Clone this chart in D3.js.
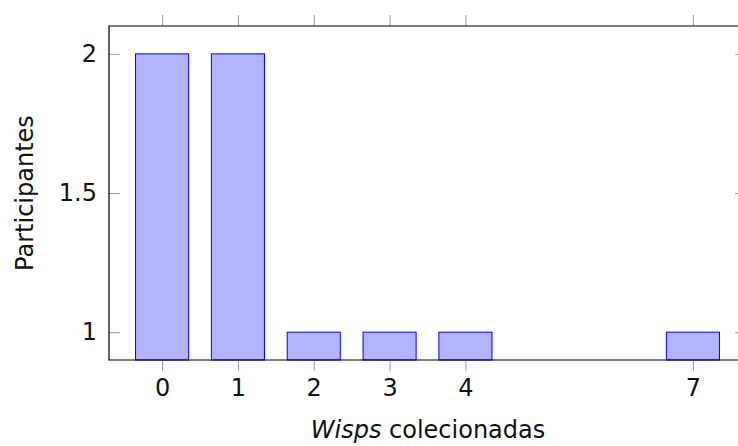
<!DOCTYPE html>
<html>
<head>
<meta charset="utf-8">
<script src="https://cdn.jsdelivr.net/npm/d3@7"></script>
<style>
  html, body { margin: 0; padding: 0; background: #fff; overflow: hidden; }
  svg { display: block; }
  text { font-family: "DejaVu Sans", sans-serif; fill: #111; }
</style>
</head>
<body>
<script>
// Number of wisps collected and how many participants collected each amount
const wisps = [0, 1, 2, 3, 4, 7];
const participants = [2, 2, 1, 1, 1, 1];
const yTicks = [1, 1.5, 2];
const yTickLabels = ["1", "1.5", "2"];

const width = 738, height = 446;
const margin = { left: 109, right: -8, top: 26, bottom: 86 };

const svg = d3.select("body").append("svg")
  .attr("width", width).attr("height", height);

const x = d3.scaleLinear().domain([-0.7, 7.7])
  .range([margin.left, width - margin.right]);
const y = d3.scaleLinear().domain([0.9, 2.1])
  .range([height - margin.bottom, margin.top]);

const barW = x(0.35) - x(0);

// bars
svg.append("g").selectAll("rect").data(wisps).join("rect")
  .attr("x", (d) => x(d) - barW)
  .attr("width", barW * 2)
  .attr("y", (d, i) => y(participants[i]))
  .attr("height", (d, i) => y(0.9) - y(participants[i]))
  .attr("fill", "#b3b3ff")
  .attr("stroke", "#0000ff")
  .attr("stroke-width", 1);

// ticks (grey), outward on x, inward on y
const tickColor = "#999";
const xBottom = d3.axisBottom(x).tickValues(wisps).tickSize(11).tickPadding(8).tickFormat(d3.format("d"));
const xTop = d3.axisTop(x).tickValues(wisps).tickSize(11).tickFormat("");
const yLeft = d3.axisLeft(y).tickValues(yTicks).tickSize(-11).tickPadding(12)
  .tickFormat((d, i) => yTickLabels[i]);
const yRight = d3.axisRight(y).tickValues(yTicks).tickSize(-11).tickFormat("");

function style(g) {
  g.select(".domain").remove();
  g.selectAll(".tick line").attr("stroke", tickColor).attr("stroke-width", 1);
  g.selectAll(".tick text").style("font-size", "24px").attr("fill", "#111")
    .style("font-family", "'DejaVu Sans', sans-serif");
}

svg.append("g").attr("transform", `translate(0,${y(0.9)})`).call(xBottom).call(style);
svg.append("g").attr("transform", `translate(0,${y(2.1)})`).call(xTop).call(style);
svg.append("g").attr("transform", `translate(${x(-0.7)},0)`).call(yLeft).call(style);
svg.append("g").attr("transform", `translate(${x(7.7)},0)`).call(yRight).call(style);

// axis frame: left, top and bottom edges (the right edge lies past the view)
const [x0, x1] = x.range();
const [yb, yt] = y.range();
svg.append("path")
  .attr("d", `M${x1},${yt}H${x0}V${yb}H${x1}`)
  .attr("fill", "none").attr("stroke", "#000").attr("stroke-width", 1.2);

// axis labels
const xl = svg.append("text")
  .attr("x", 428).attr("y", 438)
  .attr("text-anchor", "middle")
  .style("font-size", "24px");
xl.append("tspan").style("font-style", "italic").text("Wisps");
xl.append("tspan").text(" colecionadas");

svg.append("text")
  .attr("transform", `translate(33,${(y(0.9) + y(2.1)) / 2}) rotate(-90)`)
  .attr("text-anchor", "middle")
  .style("font-size", "24px")
  .text("Participantes");
</script>
</body>
</html>
